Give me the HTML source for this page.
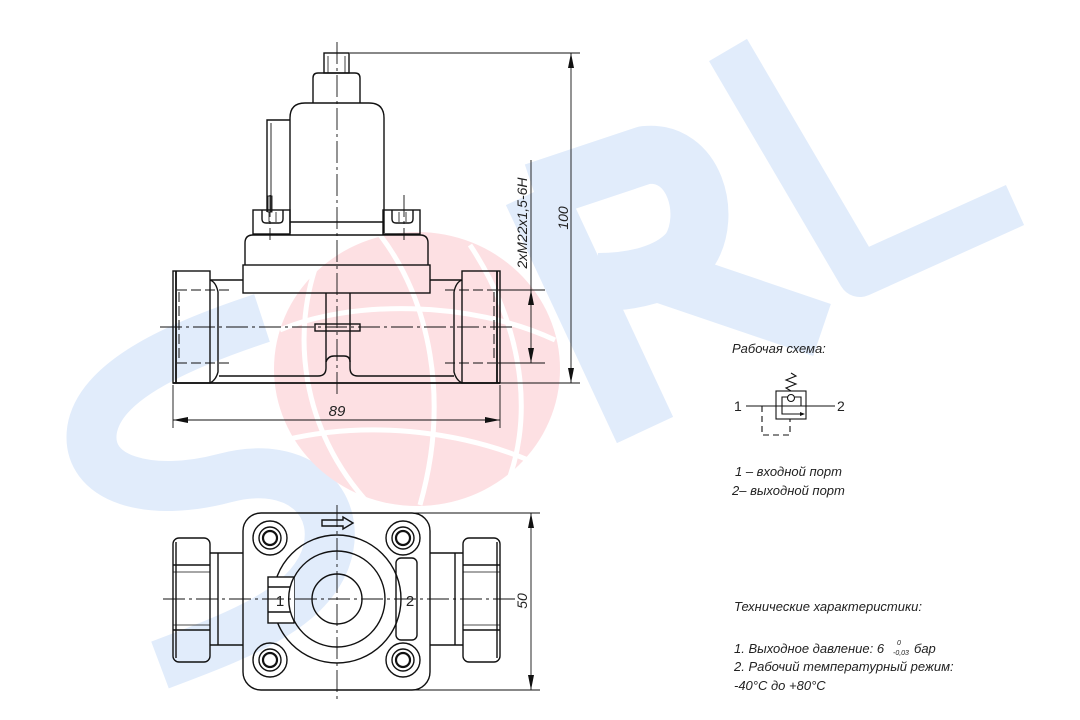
<!DOCTYPE html>
<html><head><meta charset="utf-8"><style>
html,body{margin:0;padding:0;background:#fff;}
svg{display:block;}
text{font-family:"Liberation Sans",sans-serif;font-style:italic;fill:#222;}
</style></head><body>
<svg width="1080" height="720" viewBox="0 0 1080 720" xmlns="http://www.w3.org/2000/svg">
<!-- watermark -->
<g fill="none" stroke="#e1ecfb" stroke-linecap="butt" stroke-linejoin="round">
  <path d="M262,318 C180,345 100,380 92,430 C85,480 150,498 225,478 C300,458 345,505 325,560 C305,610 240,635 160,665" stroke-width="50"/>
  <path d="M534,192 L645,430" stroke-width="62"/>
  <path d="M534,192 L645,155 C695,150 712,215 690,250 C670,275 630,282 598,282" stroke-width="58"/>
  <path d="M660,275 L822,330" stroke-width="55"/>
  <path d="M728,50 L860,275 L1015,205" stroke-width="44"/>
</g>
<!-- pink globe -->
<g>
  <ellipse cx="417" cy="369" rx="143" ry="137" fill="#fde0e3"/>
  <g fill="none" stroke="#fff" stroke-width="5">
    <path d="M320,255 C290,330 300,430 370,505"/>
    <path d="M470,245 C520,320 540,420 500,500"/>
    <path d="M280,330 C350,300 470,300 555,340"/>
    <path d="M285,440 C370,420 470,430 550,470"/>
    <path d="M380,235 C430,300 450,400 420,505"/>
  </g>
</g>

<g fill="none" stroke="#111" stroke-width="1.4">
<rect x="324" y="53" width="25" height="20"/>
<line x1="328" y1="56" x2="328" y2="73" stroke-width="0.8"/>
<line x1="345" y1="56" x2="345" y2="73" stroke-width="0.8"/>
<path d="M313,103 L313,78 Q313,73 318,73 L355,73 Q360,73 360,78 L360,103"/>
<path d="M290,233 L290,118 Q290,103 305,103 L369,103 Q384,103 384,118 L384,233"/>
<line x1="290" y1="222" x2="384" y2="222"/>
<path d="M290,120 L267,120 L267,212"/>
<line x1="271" y1="123" x2="271" y2="212" stroke-width="0.9"/>
<rect x="268" y="196" width="4" height="16" stroke-width="0.9"/>
<rect x="253" y="210" width="37" height="24"/>
<rect x="383" y="210" width="37" height="24"/>
<path d="M262,210 L262,219 Q262,223 266,223 L279,223 Q283,223 283,219 L283,210"/>
<path d="M392,210 L392,219 Q392,223 396,223 L409,223 Q413,223 413,219 L413,210"/>
<line x1="269" y1="212" x2="269" y2="222" stroke-width="0.8"/>
<line x1="276" y1="212" x2="276" y2="222" stroke-width="0.8"/>
<line x1="399" y1="212" x2="399" y2="222" stroke-width="0.8"/>
<line x1="406" y1="212" x2="406" y2="222" stroke-width="0.8"/>
<path d="M245,265 L245,243 Q245,235 253,235 L420,235 Q428,235 428,243 L428,265"/>
<rect x="243" y="265" width="187" height="28"/>
<line x1="210" y1="280" x2="243" y2="280"/>
<line x1="430" y1="280" x2="462" y2="280"/>
<line x1="173" y1="383" x2="500" y2="383" stroke-width="1.8"/>
<path d="M210,280 Q216,282 218,292 L218,372 Q216,380 210,383"/>
<path d="M462,280 Q456,282 454,292 L454,372 Q456,380 462,383"/>
<path d="M219,376 L318,376 Q326,376 326,368 L326,362 Q328,356 334,356 L344,356 Q350,356 350,362 L350,368 Q350,376 358,376 L454,376"/>
<line x1="326" y1="293" x2="326" y2="362"/>
<line x1="350" y1="293" x2="350" y2="362"/>
<rect x="315" y="324" width="45" height="7"/>
<rect x="173" y="271" width="37" height="112"/>
<line x1="176" y1="271" x2="176" y2="383" stroke-width="1.8"/>
<rect x="462" y="271" width="38" height="112"/>
<line x1="497" y1="271" x2="497" y2="383" stroke-width="1.8"/>
<g stroke-dasharray="10,4" stroke-width="1">
<line x1="177" y1="290" x2="230" y2="290"/>
<line x1="177" y1="363" x2="230" y2="363"/>
<line x1="445" y1="290" x2="496" y2="290"/>
<line x1="445" y1="363" x2="496" y2="363"/>
<line x1="179" y1="292" x2="179" y2="362"/>
<line x1="494" y1="292" x2="494" y2="362"/>
</g>
<g stroke-dasharray="22,4,3,4" stroke-width="0.9">
<line x1="337" y1="42" x2="337" y2="395"/>
<line x1="160" y1="327" x2="515" y2="327"/>
<line x1="270" y1="195" x2="270" y2="240"/>
<line x1="404" y1="195" x2="404" y2="240"/>
</g>
<g stroke-width="0.9">
<line x1="350" y1="53" x2="580" y2="53"/>
<line x1="500" y1="383" x2="580" y2="383"/>
<line x1="571" y1="53" x2="571" y2="383"/>
<line x1="498" y1="290" x2="545" y2="290"/>
<line x1="498" y1="363" x2="545" y2="363"/>
<line x1="531" y1="160" x2="531" y2="363"/>
<line x1="173" y1="385" x2="173" y2="428"/>
<line x1="500" y1="385" x2="500" y2="428"/>
<line x1="173" y1="420" x2="500" y2="420"/>
</g>
</g>
<g fill="#111">
<path d="M571,53 l-3,15 l6,0z"/><path d="M571,383 l-3,-15 l6,0z"/>
<path d="M531,290 l-3,15 l6,0z"/><path d="M531,363 l-3,-15 l6,0z"/>
<path d="M173,420 l15,-3 l0,6z"/><path d="M500,420 l-15,-3 l0,6z"/>
</g>
<text x="337" y="416" font-size="15" text-anchor="middle">89</text>
<text transform="translate(568,218) rotate(-90)" font-size="14" text-anchor="middle">100</text>
<text transform="translate(527,223) rotate(-90)" font-size="14" text-anchor="middle">2xM22x1,5-6H</text>

<g fill="none" stroke="#111" stroke-width="1.4">
<rect x="243" y="513" width="187" height="177" rx="18"/>
<g>
<circle cx="270" cy="538" r="17"/><circle cx="270" cy="538" r="11"/><circle cx="270" cy="538" r="7" stroke-width="2.2"/>
<circle cx="403" cy="538" r="17"/><circle cx="403" cy="538" r="11"/><circle cx="403" cy="538" r="7" stroke-width="2.2"/>
<circle cx="270" cy="660" r="17"/><circle cx="270" cy="660" r="11"/><circle cx="270" cy="660" r="7" stroke-width="2.2"/>
<circle cx="403" cy="660" r="17"/><circle cx="403" cy="660" r="11"/><circle cx="403" cy="660" r="7" stroke-width="2.2"/>
</g>
<circle cx="337" cy="599" r="64"/>
<circle cx="337" cy="599" r="48"/>
<circle cx="337" cy="599" r="25"/>
<rect x="268" y="577" width="26" height="46" fill="#fff"/>
<line x1="268" y1="587" x2="292" y2="587"/>
<line x1="268" y1="612" x2="292" y2="612"/>
<path d="M294,577 A48,48 0 0 0 294,621" fill="#fff"/>
<rect x="396" y="558" width="21" height="82" rx="5"/>
<path d="M322,520 L343,520 L343,517 L353,523 L343,529 L343,526 L322,526 Z"/>
<rect x="173" y="538" width="37" height="124" rx="6"/>
<line x1="176" y1="542" x2="176" y2="658"/>
<line x1="173" y1="565" x2="210" y2="565"/><line x1="173" y1="572" x2="210" y2="572" stroke-width="0.8"/>
<line x1="173" y1="630" x2="210" y2="630"/><line x1="173" y1="625" x2="210" y2="625" stroke-width="0.8"/>
<rect x="463" y="538" width="37" height="124" rx="6"/>
<line x1="497" y1="542" x2="497" y2="658"/>
<line x1="463" y1="565" x2="500" y2="565"/><line x1="463" y1="572" x2="500" y2="572" stroke-width="0.8"/>
<line x1="463" y1="630" x2="500" y2="630"/><line x1="463" y1="625" x2="500" y2="625" stroke-width="0.8"/>
<path d="M210,553 L243,553 M210,645 L243,645 M218,553 L218,645"/>
<path d="M430,553 L463,553 M430,645 L463,645 M455,553 L455,645"/>
</g>
<g fill="none" stroke="#111" stroke-width="0.9" stroke-dasharray="22,4,3,4">
<line x1="337" y1="505" x2="337" y2="700"/>
<line x1="163" y1="599" x2="515" y2="599"/>
</g>
<g fill="none" stroke="#111" stroke-width="0.9">
<line x1="400" y1="513" x2="540" y2="513"/>
<line x1="400" y1="690" x2="540" y2="690"/>
<line x1="531" y1="513" x2="531" y2="690"/>
</g>
<g fill="#111"><path d="M531,513 l-3,15 l6,0z"/><path d="M531,690 l-3,-15 l6,0z"/></g>
<text x="280" y="606" font-size="15" text-anchor="middle" style="font-style:normal">1</text>
<text x="410" y="606" font-size="15" text-anchor="middle" style="font-style:normal">2</text>
<text transform="translate(527,601) rotate(-90)" font-size="14" text-anchor="middle">50</text>

<text x="732" y="353" font-size="13">Рабочая схема:</text>
<g fill="none" stroke="#111" stroke-width="1.1">
<rect x="776" y="391" width="30" height="28"/>
<line x1="746" y1="406" x2="835" y2="406"/>
<path d="M791,391 L786,388 L796,384 L786,380 L796,376 L791,373"/>
<path d="M782,406 L782,397 L788,397 M795,397 L801,397 L801,406"/>
<circle cx="791" cy="398" r="3.5"/>
<path d="M782,406 L782,414 L803,414"/>
<path d="M762,406 L762,435 L790,435 L790,419" stroke-dasharray="6,4"/>
</g>
<path d="M805,414 l-5,-2 l0,4z" fill="#111"/>
<text x="734" y="411" font-size="14" style="font-style:normal">1</text>
<text x="837" y="411" font-size="14" style="font-style:normal">2</text>
<text x="735" y="476" font-size="13">1 – входной порт</text>
<text x="732" y="495" font-size="13">2– выходной порт</text>
<text x="734" y="611" font-size="13">Технические характеристики:</text>
<text x="734" y="653" font-size="13">1. Выходное давление: 6</text>
<text x="897" y="645" font-size="7">0</text>
<text x="893" y="655" font-size="7">-0,03</text>
<text x="914" y="653" font-size="13">бар</text>
<text x="734" y="671" font-size="13">2. Рабочий температурный режим:</text>
<text x="734" y="690" font-size="13">-40°С до +80°С</text>
</svg>
</body></html>
